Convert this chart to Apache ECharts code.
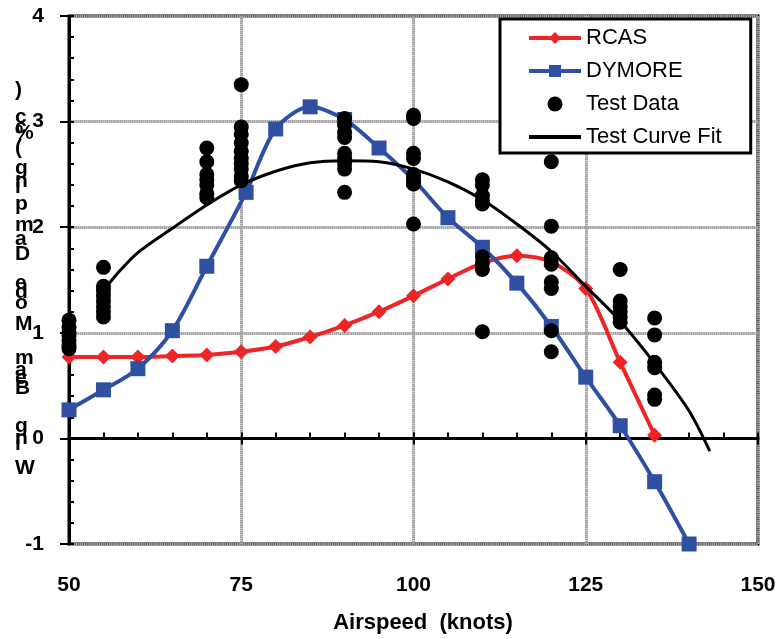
<!DOCTYPE html>
<html>
<head>
<meta charset="utf-8">
<script src="https://cdn.jsdelivr.net/npm/echarts@6/dist/echarts.min.js"></script>
<style>html,body{margin:0;padding:0;background:#fff;}#c{width:781px;height:639px;}</style>
</head>
<body>
<div id="c"></div>
<script>
// ---- data ----
const xTicks = [50, 75, 100, 125, 150];
const yTicks = [-1, 0, 1, 2, 3, 4];

const rcasX = [50, 55, 60, 65, 70, 75, 80, 85, 90, 95, 100, 105, 110, 115, 120, 125, 130, 135];
const rcasY = [0.77, 0.77, 0.77, 0.78, 0.79, 0.82, 0.87, 0.96, 1.07, 1.20, 1.35, 1.51, 1.66, 1.73, 1.67, 1.42, 0.72, 0.03];

const dymoreX = [50, 55, 60, 65, 70, 75.7, 80, 85, 90, 95, 100, 105, 110, 115, 120, 125, 130, 135, 140];
const dymoreY = [0.27, 0.46, 0.66, 1.02, 1.63, 2.33, 2.93, 3.14, 3.02, 2.75, 2.45, 2.09, 1.81, 1.47, 1.06, 0.58, 0.12, -0.41, -1.0];

const testX = [50, 50, 50, 50, 50, 50, 50,
  55, 55, 55, 55, 55, 55, 55, 55,
  70, 70, 70, 70, 70, 70, 70,
  75, 75, 75, 75, 75, 75, 75, 75, 75, 75,
  90, 90, 90, 90, 90, 90, 90, 90, 90,
  100, 100, 100, 100, 100, 100, 100, 100,
  110, 110, 110, 110, 110, 110, 110, 110, 110,
  120, 120, 120, 120, 120, 120, 120, 120,
  130, 130, 130, 130, 130, 130,
  135, 135, 135, 135, 135, 135];
const testY = [1.12, 1.05, 1.00, 0.97, 0.93, 0.88, 0.85,
  1.62, 1.44, 1.40, 1.35, 1.30, 1.25, 1.20, 1.15,
  2.75, 2.62, 2.50, 2.45, 2.40, 2.32, 2.28,
  3.35, 2.95, 2.88, 2.80, 2.72, 2.65, 2.60, 2.55, 2.48, 2.44,
  3.03, 2.97, 2.90, 2.85, 2.70, 2.65, 2.60, 2.55, 2.33,
  3.06, 3.03, 2.70, 2.65, 2.50, 2.45, 2.41, 2.03,
  2.45, 2.40, 2.30, 2.25, 2.22, 1.72, 1.66, 1.60, 1.01,
  2.62, 2.01, 1.71, 1.65, 1.48, 1.42, 1.02, 0.82,
  1.60, 1.30, 1.25, 1.20, 1.15, 1.10,
  1.14, 0.98, 0.72, 0.67, 0.41, 0.37];

const fitX = [55, 57, 60, 65, 70, 75, 80, 85, 90, 95, 100, 105, 110, 115, 120, 125, 130, 135, 140, 143];
const fitY = [1.40, 1.56, 1.76, 1.99, 2.21, 2.40, 2.53, 2.61, 2.63, 2.62, 2.55, 2.43, 2.26, 2.03, 1.77, 1.44, 1.11, 0.71, 0.26, -0.12];

const seriesNames = ['RCAS', 'DYMORE', 'Test Data', 'Test Curve Fit'];
const xTitle = 'Airspeed  (knots)';
const yTitleChars = [')', 'c', 'c', '%', '(', 'g', 'n', 'i', 'p', 'm', 'a', 'D', 'e', 'd', 'o', 'M', 'm', 'a', 'e', 'B', 'g', 'n', 'i', 'W'];
// ---- layout for stacked y title characters (vertical centers, px) ----
const yTitleCharPos = [92, 119, 129, 135, 150, 170, 183, 189, 206, 227, 241, 256, 285, 294, 305, 326, 360, 372, 380, 390, 428, 440, 446, 470];

const zip = (a, b) => a.map((v, i) => [v, b[i]]);
const FONT = '"Liberation Sans", Arial, sans-serif';
const RED = '#EE2526';
const BLUE = '#2F4FA2';
const GRIDC = '#a3a3a3';

const chart = echarts.init(document.getElementById('c'), null, {renderer: 'canvas'});

const graphics = yTitleChars.map((ch, i) => ({
  type: 'text', left: 15, top: yTitleCharPos[i] - 12,
  style: {text: ch, font: 'bold 21px ' + FONT, fill: '#000', textVerticalAlign: 'top'}
}));
graphics.push({
  type: 'text', x: 423, y: 623,
  style: {text: xTitle, font: 'bold 22px ' + FONT, fill: '#000', textAlign: 'center', textVerticalAlign: 'middle'}
});

const splitStyle = {color: GRIDC, width: 3, type: [1.7, 0.4]};

const option = {
  animation: false,
  backgroundColor: '#fff',
  grid: {left: 69, right: 23, top: 16, bottom: 95, show: true, borderColor: '#000', borderWidth: 3, backgroundColor: 'transparent'},
  legend: {
    orient: 'vertical', left: 500, top: 19,
    data: [
      {name: seriesNames[0]},
      {name: seriesNames[1]},
      {name: seriesNames[2]},
      {name: seriesNames[3], icon: 'path://M0,0h52v4h-52z'}
    ],
    itemWidth: 52, itemHeight: 15, itemGap: 11,
    symbolKeepAspect: true,
    lineStyle: {width: 4},
    padding: [8, 29, 5, 27],
    backgroundColor: '#fff', borderColor: '#000', borderWidth: 3,
    selectedMode: false,
    textStyle: {fontFamily: FONT, fontSize: 22, lineHeight: 22, color: '#000'}
  },
  xAxis: [
    {type: 'value', min: 50, max: 150, interval: 25, position: 'bottom',
     axisLine: {show: false, onZero: false}, axisTick: {show: false},
     axisLabel: {margin: 31, fontSize: 21, fontWeight: 'bold', color: '#000', fontFamily: FONT,
       formatter: v => xTicks.includes(v) ? String(v) : ''},
     splitLine: {show: true, lineStyle: splitStyle}},
    {type: 'value', min: 50, max: 150, interval: 5, position: 'bottom',
     axisLine: {show: true, onZero: true, lineStyle: {color: '#000', width: 3}},
     axisTick: {show: true, inside: true, length: 6, lineStyle: {color: '#000', width: 2}},
     axisLabel: {show: false}, splitLine: {show: false}},
    {type: 'value', min: 50, max: 150, interval: 25, position: 'bottom',
     axisLine: {show: false, onZero: true},
     axisTick: {show: true, inside: false, length: 6, lineStyle: {color: '#000', width: 2}},
     axisLabel: {show: false}, splitLine: {show: false}}
  ],
  yAxis: [
    {type: 'value', min: -1, max: 4, interval: 1, position: 'left',
     axisLine: {show: true, onZero: false, lineStyle: {color: '#000', width: 3}},
     axisTick: {show: true, inside: false, length: 9, lineStyle: {color: '#000', width: 2}},
     axisLabel: {margin: 25, fontSize: 21, fontWeight: 'bold', color: '#000', fontFamily: FONT,
       formatter: v => yTicks.includes(v) ? String(v) : ''},
     splitLine: {show: true, lineStyle: splitStyle}},
    {type: 'value', min: -1, max: 4, interval: 0.2, position: 'left',
     axisLine: {show: false, onZero: false},
     axisTick: {show: true, inside: true, length: 5, lineStyle: {color: '#000', width: 2}},
     axisLabel: {show: false}, splitLine: {show: false}}
  ],
  graphic: graphics,
  series: [
    {name: seriesNames[0], type: 'line', data: zip(rcasX, rcasY), smooth: 0.3,
     symbol: 'diamond', symbolSize: [15, 15], showAllSymbol: true,
     lineStyle: {color: RED, width: 4}, itemStyle: {color: RED}, z: 3},
    {name: seriesNames[1], type: 'line', data: zip(dymoreX, dymoreY), smooth: 0.3,
     symbol: 'rect', symbolSize: 15, showAllSymbol: true,
     lineStyle: {color: BLUE, width: 4}, itemStyle: {color: BLUE}, z: 4},
    {name: seriesNames[2], type: 'scatter', data: zip(testX, testY),
     symbol: 'circle', symbolSize: 15, itemStyle: {color: '#000', opacity: 1}, z: 5},
    {name: seriesNames[3], type: 'line', data: zip(fitX, fitY), smooth: 0.3,
     symbol: 'none', lineStyle: {color: '#000', width: 3}, itemStyle: {color: '#000'}, z: 6}
  ]
};
chart.setOption(option);
</script>
</body>
</html>
